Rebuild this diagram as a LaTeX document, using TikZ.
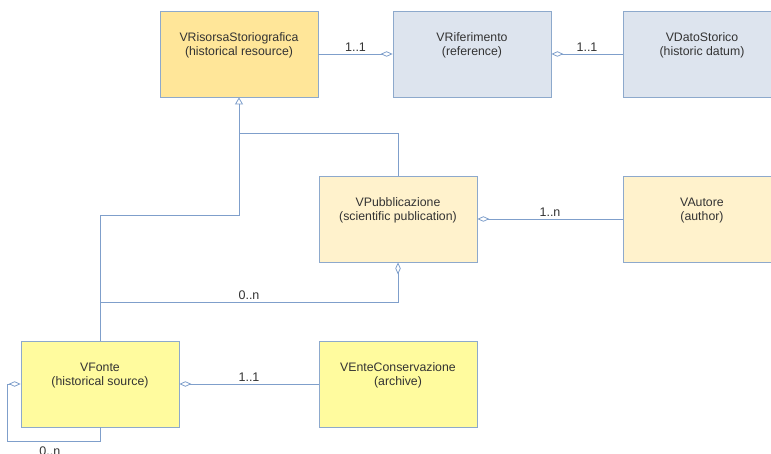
\documentclass[tikz,border=0pt]{standalone}
\usepackage{fontspec}
\setmainfont{Liberation Sans}
\usetikzlibrary{arrows.meta}

\definecolor{boxline}{HTML}{8DA9CC}
\definecolor{linkline}{HTML}{7F9FCB}
\definecolor{labeltext}{HTML}{333333}
\definecolor{goldfill}{HTML}{FFE699}
\definecolor{greyfill}{HTML}{DDE4EE}
\definecolor{creamfill}{HTML}{FFF2CC}
\definecolor{lemonfill}{HTML}{FFFB9E}

\begin{document}
\begin{tikzpicture}[x=1pt, y=-1pt,
    entity/.style={draw=boxline, line width=0.8pt, minimum width=158pt, minimum height=86pt, inner sep=0pt},
    etext/.style={align=center, text=labeltext, font=\fontsize{12.3}{14}\selectfont},
    link/.style={draw=linkline, line width=0.8pt},
    mult/.style={text=labeltext, font=\fontsize{12.5}{14}\selectfont, inner sep=2pt},
    odiam/.tip={Diamond[open, length=12pt, width=5.5pt]},
    inherit/.style={link, -{Triangle[open, length=7pt, width=8pt]}}]
    \useasboundingbox (0,0) rectangle (771,454);

    % Define the boxes
    \node[entity, fill=goldfill] (risorsa) at (239,54) {};
    \node[etext] (risorsa-t) at ([yshift=-34.5pt]risorsa.north) {VRisorsaStoriografica\\(historical resource)};
    \node[entity, fill=greyfill] (riferimento) at (472,54) {};
    \node[etext] (riferimento-t) at ([yshift=-34.5pt]riferimento.north) {VRiferimento\\(reference)};
    \node[entity, fill=greyfill] (dato) at (702,54) {};
    \node[etext] (dato-t) at ([yshift=-34.5pt]dato.north) {VDatoStorico\\(historic datum)};
    \node[entity, fill=creamfill] (pubbl) at (398,219) {};
    \node[etext] (pubbl-t) at ([yshift=-34.5pt]pubbl.north) {VPubblicazione\\(scientific publication)};
    \node[entity, fill=creamfill] (autore) at (702,219) {};
    \node[etext] (autore-t) at ([yshift=-34.5pt]autore.north) {VAutore\\(author)};
    \node[entity, fill=lemonfill] (fonte) at (100,384) {};
    \node[etext] (fonte-t) at ([yshift=-34.5pt]fonte.north) {VFonte\\(historical source)};
    \node[entity, fill=lemonfill] (ente) at (398,384) {};
    \node[etext] (ente-t) at ([yshift=-34.5pt]ente.north) {VEnteConservazione\\(archive)};

    % Bend points of the connectors
    \coordinate (g1) at (239,215);
    \coordinate (g2) at (239,133);
    \coordinate (j1) at (100,302);
    \coordinate (s1) at (7,441);

    % Associations
    \draw[link, -odiam] (risorsa.east) -- node[mult, above] (m1) {1..1} (riferimento.west);
    \draw[link, odiam-] (riferimento.east) -- node[mult, above] (m2) {1..1} (dato.west);
    \draw[link, odiam-] (pubbl.east) -- node[mult, above] (m3) {1..n} (autore.west);
    \draw[link, odiam-] (pubbl.south) |- node[mult, pos=0.75, above] (m4) {0..n} (j1);
    \draw[link, odiam-] (fonte.east) -- node[mult, above] (m5) {1..1} (ente.west);
    \draw[link, odiam-] (fonte.west) -| (s1) -| node[mult, pos=0.23, below, yshift=-3pt] (m6) {0..n} (fonte.south);

    % Generalisations
    \draw[inherit] (fonte.north) |- (g1) -- (risorsa.south);
    \draw[link] (pubbl.north) |- (g2);
\end{tikzpicture}
\end{document}
